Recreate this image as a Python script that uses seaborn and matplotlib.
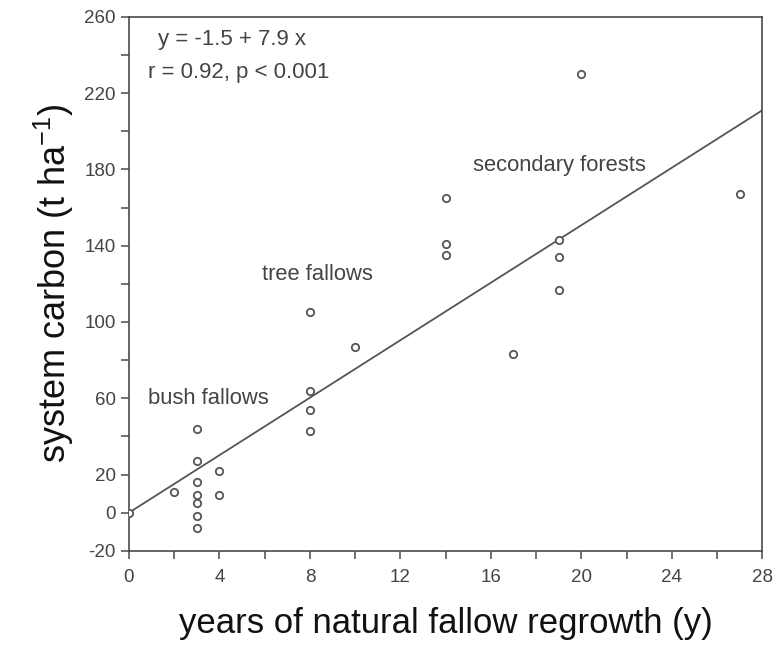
import matplotlib
matplotlib.use("Agg")
import matplotlib.pyplot as plt
import seaborn as sns
import pandas as pd
import numpy as np

# data
years = [0, 2, 3, 3, 3, 3, 3, 3, 3, 4, 4, 8, 8, 8, 8, 10, 14, 14, 14, 17, 19, 19, 19, 20, 27]
carbon = [0, 11, 44, 27, 16, 9, 5, -2, -8, 22, 9, 105, 64, 54, 43, 87, 165, 141, 135, 83, 143, 134, 117, 230, 167]

fit_x = [0, 28]
fit_y = [0, 211]

y_major = [-20, 0, 20, 60, 100, 140, 180, 220, 260]
y_minor = [40, 80, 120, 160, 200, 240]
x_major = [0, 4, 8, 12, 16, 20, 24, 28]
x_minor = [2, 6, 10, 14, 18, 22, 26]

group_labels = ["bush fallows", "tree fallows", "secondary forests"]
group_pos = [(0.85, 60), (5.9, 125), (15.2, 182)]

eq_lines = ["y = -1.5 + 7.9 x", "r = 0.92, p < 0.001"]

sns.set_theme(style="ticks")
plt.rcParams["font.family"] = ["Liberation Sans", "DejaVu Sans"]

df = pd.DataFrame({"years": years, "carbon": carbon})
fit = pd.DataFrame({"x": fit_x, "y": fit_y})

ink = "#4a4a4a"
fig = plt.figure(figsize=(7.77, 6.48), dpi=100)
ax = fig.add_axes([0.166, 0.150, 0.815, 0.824])

sns.lineplot(data=fit, x="x", y="y", ax=ax, color="#555555", linewidth=1.3)
sns.scatterplot(data=df, x="years", y="carbon", ax=ax, marker="o", s=28,
                facecolor="white", edgecolor="#555555", linewidth=1.3, zorder=3)

ax.set_xlim(0, 28)
ax.set_ylim(-20, 260)
ax.set_yticks(y_major)
ax.set_yticks(y_minor, minor=True)
ax.set_xticks(x_major)
ax.set_xticks(x_minor, minor=True)
ax.set_yticklabels([str(v) for v in y_major])
ax.set_xticklabels([str(v) for v in x_major])
ax.tick_params(which="both", direction="out", length=6, width=1.1, color=ink,
               labelsize=13.5, labelcolor="#444444")
ax.tick_params(axis="x", which="major", pad=7)
for sp in ax.spines.values():
    sp.set_visible(True)
    sp.set_color(ink)
    sp.set_linewidth(1.2)

ax.set_xlabel("years of natural fallow regrowth (y)", fontsize=25, color="#111111", labelpad=15)
ax.set_ylabel("system carbon (t ha$^{\\mathregular{-1}}$)", fontsize=26, color="#111111", labelpad=6)

for lab, (gx, gy) in zip(group_labels, group_pos):
    ax.text(gx, gy, lab, fontsize=15.8, color="#444444", ha="left", va="center")

ax.text(1.3, 248, eq_lines[0], fontsize=16, color="#444444", ha="left", va="center")
ax.text(0.85, 231, eq_lines[1], fontsize=16, color="#444444", ha="left", va="center")

fig.savefig("out.png", dpi=100, facecolor="white")
